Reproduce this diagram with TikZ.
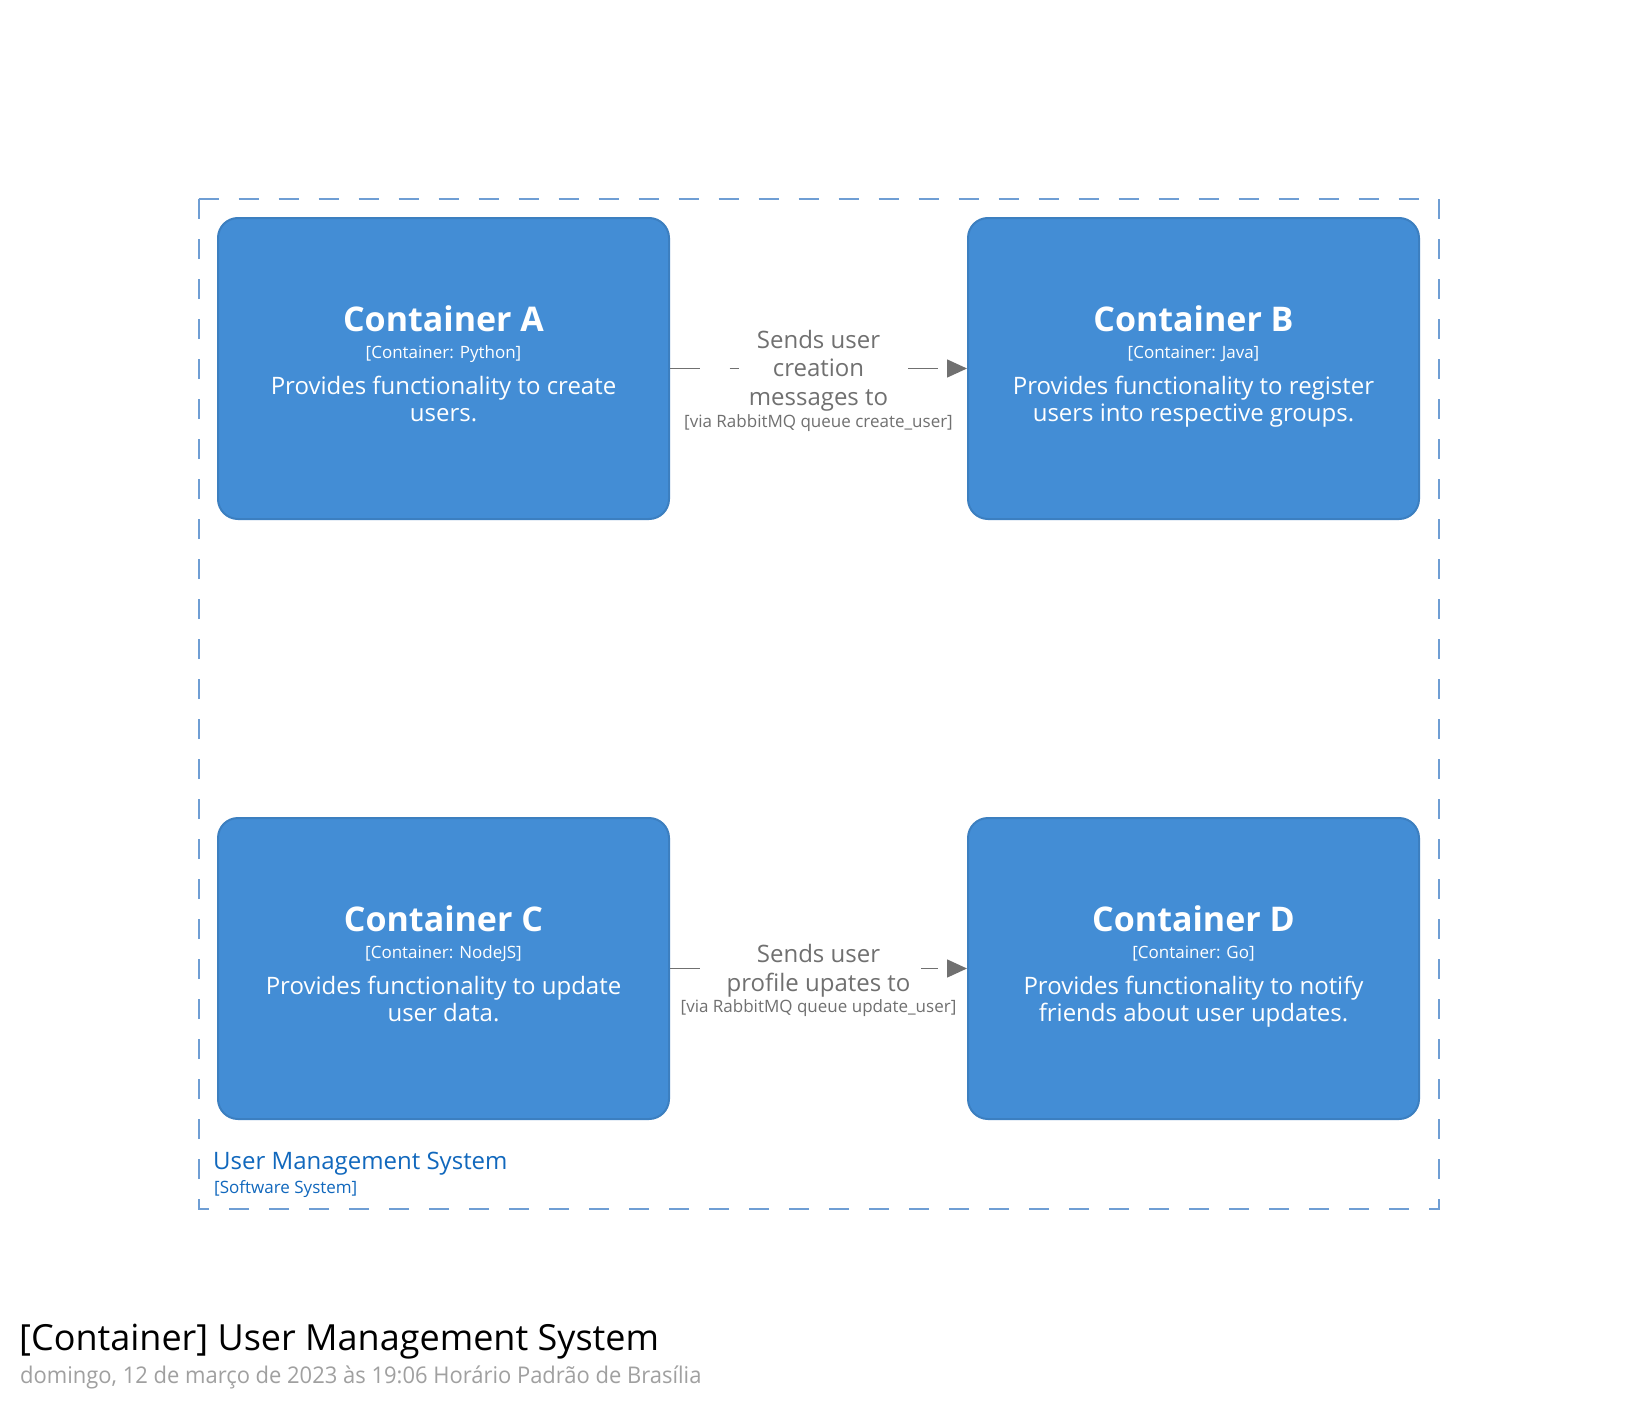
\documentclass[tikz,border=0pt]{standalone}
\usepackage{fontspec}
\setmainfont{Open Sans}
\newfontfamily\datefont[FakeStretch=0.955]{Open Sans}
\usetikzlibrary{arrows.meta}
\definecolor{boxfill}{HTML}{438DD5}
\definecolor{boxline}{HTML}{3C7FC0}
\definecolor{relgray}{HTML}{707070}
\definecolor{bndline}{HTML}{6F9ED4}
\definecolor{bndtext}{HTML}{1168BD}
\definecolor{dategray}{HTML}{A0A0A0}
\begin{document}
\begin{tikzpicture}[x=1pt,y=-1pt,
  cbox/.style={draw=boxline, fill=boxfill, line width=2pt, rounded corners=20pt, minimum width=451pt, minimum height=301pt, inner sep=0pt},
  txt/.style={anchor=base, inner sep=0pt, text=white},
  cname/.style={txt, font=\fontsize{34}{40}\selectfont\bfseries},
  cmeta/.style={txt, font=\fontsize{17}{20}\selectfont},
  cdesc/.style={txt, font=\fontsize{24}{28}\selectfont},
  rel/.style={draw=relgray, line width=1.5pt, dash pattern=on 29.5pt off 30pt, -{Triangle[length=20pt,width=18pt]}},
  relbg/.style={fill=white, draw=none, inner sep=0pt},
  reltxt/.style={anchor=base, inner sep=0pt, text=relgray, font=\fontsize{24}{28}\selectfont},
  reltech/.style={anchor=base, inner sep=0pt, text=relgray, font=\fontsize{17}{20}\selectfont},
  boundary/.style={draw=bndline, line width=2pt, dash pattern=on 20pt off 20pt},
  bndname/.style={anchor=base west, inner sep=0pt, text=bndtext, font=\fontsize{24}{28}\selectfont},
  bndmeta/.style={anchor=base west, inner sep=0pt, text=bndtext, font=\fontsize{17}{20}\selectfont},
  titletxt/.style={anchor=base west, inner sep=0pt, text=black, font=\fontsize{36}{42}\selectfont},
  datetxt/.style={anchor=base west, inner sep=0pt, text=dategray, font=\datefont\fontsize{23}{27}\selectfont}
]
\useasboundingbox (0,0) rectangle (1639,1410);
\fill[white] (0,0) rectangle (1639,1410);

% boundary
\coordinate (b1) at (198.5,199);
\coordinate (b2) at (1438.5,199);
\coordinate (b3) at (1438.5,1209);
\coordinate (b4) at (198.5,1209);
\draw[boundary] (b1) -- (b2) -- (b3) -- (b4) -- cycle;
\node[bndname] (bn) at (213,1169.3) {User Management System};
\node[bndmeta] (bm) at (214,1193.3) {[Software System]};

% containers
\node[cbox] (A) at (443.5,368.5) {};
\node[cbox] (B) at (1193.5,368.5) {};
\node[cbox] (C) at (443.5,968.5) {};
\node[cbox] (D) at (1193.5,968.5) {};

\node[cname] (An) at (443.5,331.7) {Container A};
\node[cmeta] (Am) at (443.5,358.5) {[Container: Python]};
\node[cdesc] (Ad1) at (443.5,394.3) {Provides functionality to create};
\node[cdesc] (Ad2) at (443.5,421.8) {users.};

\node[cname] (Bn) at (1193.5,331.7) {Container B};
\node[cmeta] (Bm) at (1193.5,358.5) {[Container: Java]};
\node[cdesc] (Bd1) at (1193.5,394.3) {Provides functionality to register};
\node[cdesc] (Bd2) at (1193.5,421.8) {users into respective groups.};

\node[cname] (Cn) at (443.5,931.7) {Container C};
\node[cmeta] (Cm) at (443.5,958.5) {[Container: NodeJS]};
\node[cdesc] (Cd1) at (443.5,994.3) {Provides functionality to update};
\node[cdesc] (Cd2) at (443.5,1021.8) {user data.};

\node[cname] (Dn) at (1193.5,931.7) {Container D};
\node[cmeta] (Dm) at (1193.5,958.5) {[Container: Go]};
\node[cdesc] (Dd1) at (1193.5,994.3) {Provides functionality to notify};
\node[cdesc] (Dd2) at (1193.5,1021.8) {friends about user updates.};

% relationships
\draw[rel] (A.east) -- (B.west);
\node[relbg, minimum width=159pt, minimum height=85pt] (r1bg) at (818.5,367.5) {};
\node[reltxt] (r1a) at (818.5,348.3) {Sends user};
\node[reltxt] (r1b) at (818.5,376.7) {creation};
\node[reltxt] (r1c) at (818.5,405) {messages to};
\node[reltech] (r1t) at (818.5,427.3) {[via RabbitMQ queue create\_user]};

\draw[rel] (C.east) -- (D.west);
\node[relbg, minimum width=205pt, minimum height=60pt] (r2bg) at (818.5,970) {};
\node[reltxt] (r2a) at (818.5,962.7) {Sends user};
\node[reltxt] (r2b) at (818.5,991) {profile upates to};
\node[reltech] (r2t) at (818.5,1012.3) {[via RabbitMQ queue update\_user]};

% title
\node[titletxt] (title) at (19,1350) {[Container] User Management System};
\node[datetxt] (date) at (20,1383.3) {domingo, 12 de março de 2023 às 19:06 Horário Padrão de Brasília};
\end{tikzpicture}
\end{document}
